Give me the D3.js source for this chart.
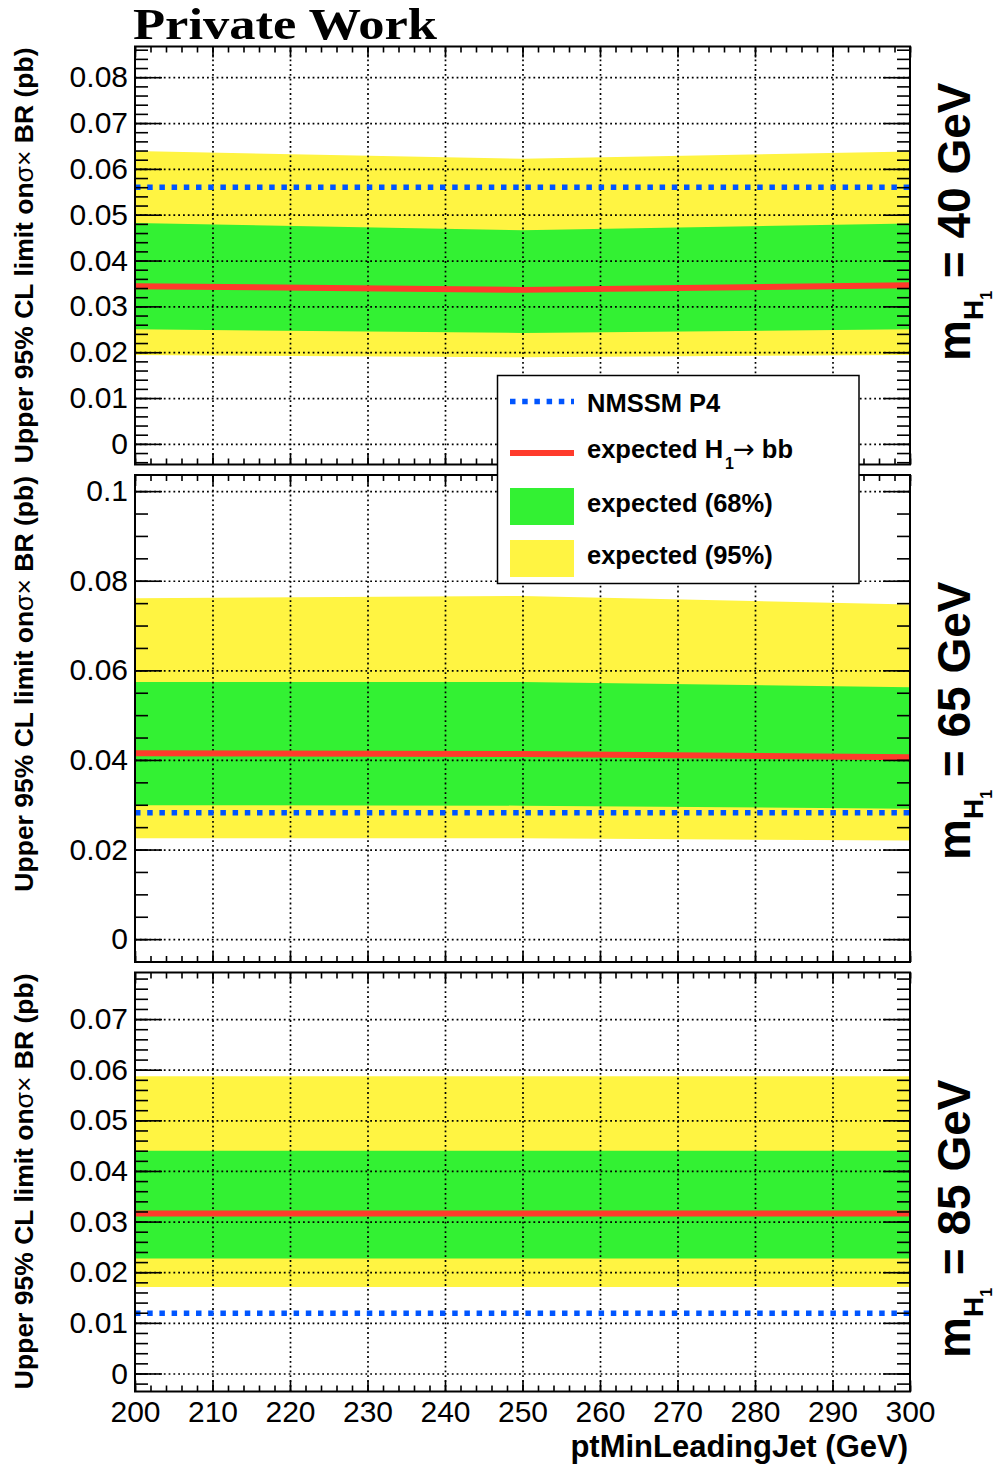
<!DOCTYPE html>
<html>
<head>
<meta charset="utf-8">
<script src="https://d3js.org/d3.v7.min.js"></script>
<style>
  body { margin: 0; background: #fff; }
</style>
</head>
<body>
<div id="chart"></div>
<script>
// ---- data ----
const ptMin = [200, 250, 300];
const xTicks = [200, 210, 220, 230, 240, 250, 260, 270, 280, 290, 300];
const xTickLabels = ["200", "210", "220", "230", "240", "250", "260", "270", "280", "290", "300"];

// mH1 = 40 GeV
const exp40   = [0.0344, 0.0336, 0.0346];
const lo68_40 = [0.0250, 0.0242, 0.0250];
const hi68_40 = [0.0482, 0.0466, 0.0481];
const lo95_40 = [0.0194, 0.0189, 0.0194];
const hi95_40 = [0.0639, 0.0622, 0.0638];
const nmssm40 = [0.0560, 0.0560, 0.0560];
const yTicks40 = [0, 0.01, 0.02, 0.03, 0.04, 0.05, 0.06, 0.07, 0.08];
const yLabels40 = ["0", "0.01", "0.02", "0.03", "0.04", "0.05", "0.06", "0.07", "0.08"];

// mH1 = 65 GeV
const exp65   = [0.0415, 0.0413, 0.0406];
const lo68_65 = [0.0299, 0.0298, 0.0291];
const hi68_65 = [0.0574, 0.0574, 0.0562];
const lo95_65 = [0.0225, 0.0225, 0.0220];
const hi95_65 = [0.0761, 0.0766, 0.0747];
const nmssm65 = [0.0282, 0.0282, 0.0282];
const yTicks65 = [0, 0.02, 0.04, 0.06, 0.08, 0.1];
const yLabels65 = ["0", "0.02", "0.04", "0.06", "0.08", "0.1"];

// mH1 = 85 GeV
const exp85   = [0.0316, 0.0316, 0.0316];
const lo68_85 = [0.0227, 0.0227, 0.0227];
const hi68_85 = [0.0440, 0.0440, 0.0440];
const lo95_85 = [0.0171, 0.0171, 0.0171];
const hi95_85 = [0.0587, 0.0587, 0.0587];
const nmssm85 = [0.0119, 0.0119, 0.0119];
const yTicks85 = [0, 0.01, 0.02, 0.03, 0.04, 0.05, 0.06, 0.07];
const yLabels85 = ["0", "0.01", "0.02", "0.03", "0.04", "0.05", "0.06", "0.07"];

const legendLabels = ["NMSSM P4", "expected H", "expected (68%)", "expected (95%)"];

// ---- style ----
const sans = "'Liberation Sans', Arial, Helvetica, sans-serif";
const cYellow = "#fff442", cGreen = "#33f133", cRed = "#ff3b2b", cBlue = "#0055ff";
const left = 135, right = 910;

const svg = d3.select("#chart").append("svg")
  .attr("width", 998).attr("height", 1468);

const x = d3.scaleLinear().domain([200, 300]).range([left, right]);

const panels = [
  { mass: "40", top: 46.5, bottom: 464.5, domain: [-0.0045, 0.0867], minor: 0.002,
    ticks: yTicks40, labels: yLabels40, exp: exp40, lo68: lo68_40, hi68: hi68_40,
    lo95: lo95_40, hi95: hi95_40, nmssm: nmssm40, labelStart: 361 },
  { mass: "65", top: 475, bottom: 962, domain: [-0.0051, 0.1036], minor: 0.005,
    ticks: yTicks65, labels: yLabels65, exp: exp65, lo68: lo68_65, hi68: hi68_65,
    lo95: lo95_65, hi95: hi95_65, nmssm: nmssm65, labelStart: 860 },
  { mass: "85", top: 972.5, bottom: 1391.5, domain: [-0.00356, 0.0792], minor: 0.002,
    ticks: yTicks85, labels: yLabels85, exp: exp85, lo68: lo68_85, hi68: hi68_85,
    lo95: lo95_85, hi95: hi95_85, nmssm: nmssm85, labelStart: 1358 }
];

function minorTicks(domain, step) {
  const out = [];
  for (let k = Math.ceil(domain[0] / step); k * step <= domain[1]; k++) out.push(+(k * step).toFixed(5));
  return out;
}
const xMinor = d3.range(200, 301, 2);

function cleanAxis(g) {
  g.select(".domain").remove();
  g.selectAll(".tick line").attr("stroke", "#000").attr("stroke-width", 1.6);
}

panels.forEach((p, i) => {
  const y = d3.scaleLinear().domain(p.domain).range([p.bottom, p.top]);
  const h = p.bottom - p.top;
  const rows = ptMin.map((v, j) => ({
    x: v, exp: p.exp[j], lo68: p.lo68[j], hi68: p.hi68[j],
    lo95: p.lo95[j], hi95: p.hi95[j], nmssm: p.nmssm[j]
  }));

  svg.append("clipPath").attr("id", "clip" + i)
    .append("rect").attr("x", left).attr("y", p.top)
    .attr("width", right - left).attr("height", h);

  const plot = svg.append("g").attr("clip-path", `url(#clip${i})`);

  // bands
  plot.append("path").datum(rows)
    .attr("d", d3.area().x(d => x(d.x)).y0(d => y(d.lo95)).y1(d => y(d.hi95)))
    .attr("fill", cYellow);
  plot.append("path").datum(rows)
    .attr("d", d3.area().x(d => x(d.x)).y0(d => y(d.lo68)).y1(d => y(d.hi68)))
    .attr("fill", cGreen);

  // dotted grid
  const gridX = plot.append("g")
    .attr("transform", `translate(0,${p.bottom})`)
    .call(d3.axisBottom(x).tickValues(xTicks.slice(1, -1)).tickSize(-h).tickFormat(""));
  const gridY = plot.append("g")
    .attr("transform", `translate(${left},0)`)
    .call(d3.axisLeft(y).tickValues(p.ticks).tickSize(-(right - left)).tickFormat(""));
  [gridX, gridY].forEach(g => {
    g.select(".domain").remove();
    g.selectAll(".tick line").attr("stroke", "#000").attr("stroke-width", 1.7)
      .attr("stroke-dasharray", "1.8,3");
  });

  // lines
  plot.append("path").datum(rows)
    .attr("d", d3.line().x(d => x(d.x)).y(d => y(d.exp)))
    .attr("fill", "none").attr("stroke", cRed).attr("stroke-width", 6);
  plot.append("path").datum(rows)
    .attr("d", d3.line().x(d => x(d.x)).y(d => y(d.nmssm)))
    .attr("fill", "none").attr("stroke", cBlue).attr("stroke-width", 5.5)
    .attr("stroke-dasharray", "5.5,6.7");

  // axes ticks (inside the frame)
  const yl = svg.append("g").attr("transform", `translate(${left},0)`)
    .call(d3.axisLeft(y).tickValues(p.ticks).tickSize(-27).tickPadding(7)
      .tickFormat((d, k) => p.labels[k]));
  cleanAxis(yl);
  yl.selectAll(".tick text").attr("font-size", 30).attr("font-family", sans).attr("fill", "#000");
  cleanAxis(svg.append("g").attr("transform", `translate(${left},0)`)
    .call(d3.axisLeft(y).tickValues(minorTicks(p.domain, p.minor)).tickSize(-13).tickFormat("")));
  cleanAxis(svg.append("g").attr("transform", `translate(${right},0)`)
    .call(d3.axisRight(y).tickValues(p.ticks).tickSize(-27).tickFormat("")));
  cleanAxis(svg.append("g").attr("transform", `translate(${right},0)`)
    .call(d3.axisRight(y).tickValues(minorTicks(p.domain, p.minor)).tickSize(-13).tickFormat("")));

  const xb = svg.append("g").attr("transform", `translate(0,${p.bottom})`)
    .call(d3.axisBottom(x).tickValues(xTicks).tickSize(-11).tickPadding(9)
      .tickFormat((d, k) => i === 2 ? xTickLabels[k] : ""));
  cleanAxis(xb);
  xb.selectAll(".tick text").attr("font-size", 30).attr("font-family", sans).attr("fill", "#000");
  cleanAxis(svg.append("g").attr("transform", `translate(0,${p.bottom})`)
    .call(d3.axisBottom(x).tickValues(xMinor).tickSize(-6).tickFormat("")));
  cleanAxis(svg.append("g").attr("transform", `translate(0,${p.top})`)
    .call(d3.axisTop(x).tickValues(xTicks).tickSize(-11).tickFormat("")));
  cleanAxis(svg.append("g").attr("transform", `translate(0,${p.top})`)
    .call(d3.axisTop(x).tickValues(xMinor).tickSize(-6).tickFormat("")));

  // frame
  svg.append("rect").attr("x", left).attr("y", p.top)
    .attr("width", right - left).attr("height", h)
    .attr("fill", "none").attr("stroke", "#000").attr("stroke-width", 2);

  // y title
  const yt = svg.append("text")
    .attr("transform", `translate(33,${p.top + 1}) rotate(-90)`)
    .attr("text-anchor", "end")
    .attr("font-family", sans).attr("font-size", 26.5).attr("font-weight", "bold")
    .attr("fill", "#000");
  yt.append("tspan").text("Upper 95% CL limit on");
  yt.append("tspan").attr("font-weight", "normal").text("σ×");
  yt.append("tspan").text(" BR (pb)");

  // mass label on the right
  const ml = svg.append("text")
    .attr("transform", `translate(970,${p.labelStart}) rotate(-90)`)
    .attr("font-family", sans).attr("font-weight", "bold").attr("fill", "#000");
  ml.append("tspan").attr("font-size", 46).text("m");
  ml.append("tspan").attr("font-size", 28).attr("dy", 13).text("H");
  ml.append("tspan").attr("font-size", 16).attr("dy", 9).text("1");
  ml.append("tspan").attr("font-size", 46).attr("dy", -22).text(` = ${p.mass} GeV`);
});

// title
svg.append("text")
  .attr("x", 133).attr("y", 38.5)
  .attr("font-family", "'Liberation Serif', 'Times New Roman', serif")
  .attr("font-weight", "bold").attr("font-size", 44)
  .attr("textLength", 304).attr("lengthAdjust", "spacingAndGlyphs")
  .text("Private Work");

// x title
svg.append("text")
  .attr("x", 908).attr("y", 1457)
  .attr("text-anchor", "end")
  .attr("font-family", sans).attr("font-weight", "bold").attr("font-size", 31)
  .text("ptMinLeadingJet (GeV)");

// legend
const lg = svg.append("g");
lg.append("rect").attr("x", 497.5).attr("y", 375.5).attr("width", 361.5).attr("height", 208)
  .attr("fill", "#fff").attr("stroke", "#000").attr("stroke-width", 1.5);
lg.append("line").attr("x1", 510).attr("x2", 574).attr("y1", 401.5).attr("y2", 401.5)
  .attr("stroke", cBlue).attr("stroke-width", 5.5).attr("stroke-dasharray", "5.5,6.7");
lg.append("line").attr("x1", 510).attr("x2", 574).attr("y1", 453).attr("y2", 453)
  .attr("stroke", cRed).attr("stroke-width", 6);
lg.append("rect").attr("x", 510).attr("y", 488).attr("width", 64).attr("height", 37).attr("fill", cGreen);
lg.append("rect").attr("x", 510).attr("y", 540).attr("width", 64).attr("height", 37).attr("fill", cYellow);

const legendBaselines = [411.7, 458.3, 511.7, 564];
legendLabels.forEach((t, k) => {
  const tx = lg.append("text").attr("x", 587).attr("y", legendBaselines[k])
    .attr("font-family", sans).attr("font-weight", "bold").attr("font-size", 25.5)
    .attr("fill", "#000");
  tx.append("tspan").text(t);
  if (k === 1) {
    tx.append("tspan").attr("font-size", 16).attr("dy", 11).attr("dx", 2).text("1");
    tx.append("tspan").attr("font-family", "'DejaVu Sans', sans-serif").attr("font-weight", "normal")
      .attr("font-size", 26).attr("dy", -11).attr("dx", -1).text("→");
    tx.append("tspan").text(" bb");
  }
});
</script>
</body>
</html>
